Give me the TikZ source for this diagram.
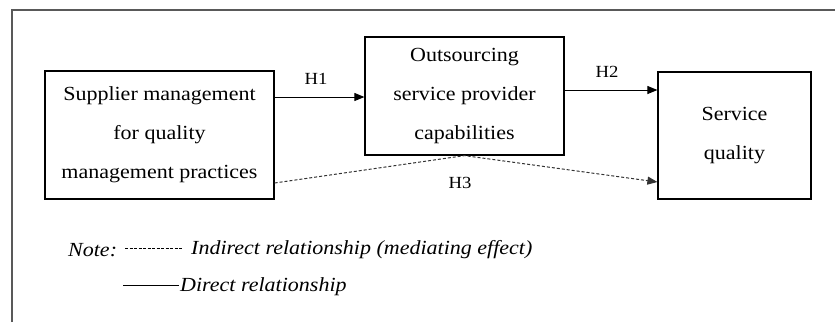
\documentclass[tikz,border=0pt]{standalone}
\usepackage{fontspec}
\setmainfont[FakeStretch=1.1]{Liberation Serif}
\usetikzlibrary{arrows.meta}
\begin{document}
\begin{tikzpicture}[x=1pt,y=-1pt,
  box/.style={draw=black, line width=1.2pt, align=center, font=\fontsize{20}{39}\selectfont, inner sep=0pt},
  arr/.style={-{Triangle[length=10pt,width=8pt]}, line width=1pt},
  darr/.style={arr, dash pattern=on 3pt off 2pt, draw=black!80, line width=1pt},
  hlab/.style={font=\fontsize{17}{17}\selectfont, inner sep=0pt},
  leg/.style={font=\fontsize{20}{20}\selectfont\itshape, inner sep=1pt},
  frame/.style={draw=black!65, line width=1.5pt}]
\useasboundingbox (0,0) rectangle (835,322);
\draw[frame] (12,322) -- (12,10) -- (835,10);

\node[box, minimum width=229pt, minimum height=128pt] (b1) at (159.5,135)
  {Supplier management\\for quality\\management practices};
\node[box, minimum width=199pt, minimum height=118pt] (b2) at (464.5,96)
  {Outsourcing\\service provider\\capabilities};
\node[box, minimum width=153pt, minimum height=127pt] (b3) at (734.5,135.5)
  {\raisebox{4pt}{\parbox{140pt}{\centering\fontsize{20}{39}\selectfont Service\\quality}}};

\draw[arr] (b1.east |- 0,97) -- (b2.west |- 0,97);
\draw[arr] (b2.east |- 0,90) -- (b3.west |- 0,90);
\draw[darr] (b1.east |- 0,183) -- (b2.south) -- (b3.west |- 0,182);

\node[hlab] (h1) at (316,79) {H1};
\node[hlab] (h2) at (607,72) {H2};
\node[hlab] (h3) at (460,183) {H3};

\node[leg, anchor=west] (note) at (67,250) {Note:};
\node[leg, anchor=west] (ind) at (190,250) {Indirect relationship (mediating effect)};
\node[leg, anchor=west] (dir) at (179,287) {Direct relationship};
\coordinate (dl) at (125,248);
\coordinate (sl) at (123,285);
\draw[dash pattern=on 3pt off 1.5pt, line width=0.8pt] (dl) -- ([xshift=-7pt]ind.west |- dl);
\draw[line width=0.9pt] (sl) -- (dir.west |- sl);
\end{tikzpicture}
\end{document}
